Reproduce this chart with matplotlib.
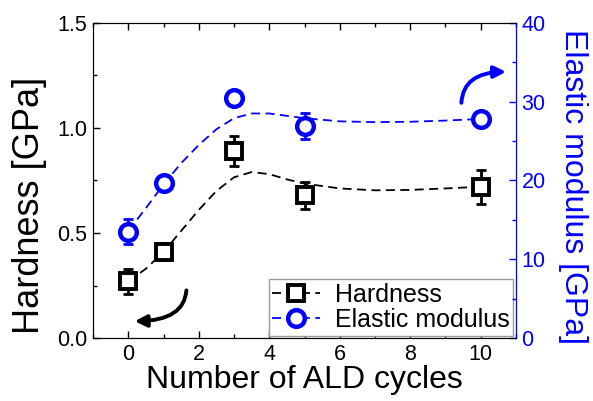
import numpy as np
import matplotlib
matplotlib.use('Agg')
import matplotlib.pyplot as plt
from matplotlib.ticker import MultipleLocator, FormatStrFormatter

plt.rcParams['font.family'] = ['Liberation Sans', 'DejaVu Sans']

# measured points
cycles = [0, 1, 3, 5, 10]
hardness = [0.27, 0.41, 0.89, 0.68, 0.72]
hardness_err = [0.06, 0.04, 0.07, 0.065, 0.08]
modulus = [13.5, 19.7, 30.5, 26.9, 27.8]
modulus_err = [1.6, 0.5, 0.5, 1.6, 0.5]

# dashed guide curves
curve_x = [0, 0.5, 1, 1.5, 2, 2.5, 3, 3.5, 4, 4.5, 5, 6, 7, 8, 9, 10]
hard_curve = [0.27, 0.33, 0.41, 0.51, 0.61, 0.70, 0.765, 0.79, 0.78, 0.755, 0.735,
              0.712, 0.703, 0.705, 0.712, 0.72]
mod_curve = [13.6, 16.5, 19.5, 22.2, 24.5, 26.5, 27.9, 28.5, 28.5, 28.2, 27.9,
             27.5, 27.4, 27.45, 27.6, 27.8]

fig = plt.figure(figsize=(5.93, 4.01), dpi=100)
ax = fig.add_axes([0.157, 0.157, 0.713, 0.786])
ax2 = ax.twinx()

ax.plot(curve_x, hard_curve, '--', color='black', lw=1.3, dashes=(5, 3))
ax.errorbar(cycles, hardness, yerr=hardness_err, fmt='none', ecolor='black',
            elinewidth=2, capsize=3.5, capthick=2)
ax.plot(cycles, hardness, 's', mfc='white', mec='black', ms=11.5, mew=2.8)

ax2.plot(curve_x, mod_curve, '--', color='blue', lw=1.3, dashes=(5, 3))
ax2.errorbar(cycles, modulus, yerr=modulus_err, fmt='none', ecolor='blue',
             elinewidth=2, capsize=3.5, capthick=2)
ax2.plot(cycles, modulus, 'o', mfc='white', mec='blue', ms=12, mew=3.2)

ax.set_xlim(-1, 11)
ax.set_ylim(0, 1.5)
ax2.set_ylim(0, 40)
ax.xaxis.set_major_locator(MultipleLocator(2))
ax.xaxis.set_minor_locator(MultipleLocator(1))
ax.yaxis.set_major_locator(MultipleLocator(0.5))
ax.yaxis.set_minor_locator(MultipleLocator(0.25))
ax2.yaxis.set_major_locator(MultipleLocator(10))
ax2.yaxis.set_minor_locator(MultipleLocator(5))
ax.yaxis.set_major_formatter(FormatStrFormatter('%.1f'))

ax.tick_params(which='both', direction='in', top=True, labelsize=15.5, width=1, pad=4)
ax.tick_params(which='major', length=5)
ax.tick_params(which='minor', length=3)
ax2.tick_params(which='both', direction='in', colors='blue', labelsize=15.5, width=1, pad=4)
ax2.tick_params(which='major', length=5)
ax2.tick_params(which='minor', length=3)
ax2.spines['right'].set_color('blue')
for s in ['left', 'top', 'bottom']:
    ax.spines[s].set_color('#333333')

ax.set_xlabel('Number of ALD cycles', fontsize=23, labelpad=0)
ax.set_ylabel('Hardness [GPa]', fontsize=26)
ax.yaxis.set_label_coords(-0.11, 0.42)
ax2.set_ylabel('Elastic modulus [GPa]', fontsize=23, color='blue', rotation=270,
               va='bottom')
ax2.yaxis.set_label_coords(1.099, 0.48)

# legend handles
h1, = ax.plot([], [], '--s', color='black', mfc='white', mec='black', ms=11.5, mew=2.8,
              lw=1.3, dashes=(5, 3))
h2, = ax.plot([], [], '--o', color='blue', mfc='white', mec='blue', ms=12, mew=3.2,
              lw=1.3, dashes=(5, 3))
leg = ax.legend([h1, h2], ['Hardness', 'Elastic modulus'], loc='lower right',
                fontsize=18, fancybox=False, edgecolor='#999999', framealpha=1,
                handlelength=1.9, handletextpad=0.6, borderpad=0.15,
                labelspacing=0.05, borderaxespad=0.1)
leg.get_frame().set_linewidth(1)

# curved arrows pointing to each axis
ax.annotate('', xy=(0.1, 0.08), xytext=(1.65, 0.24),
            arrowprops=dict(arrowstyle='-|>,head_length=0.7,head_width=0.35',
                            color='black', lw=2.8,
                            connectionstyle='angle3,angleA=90,angleB=0'))
ax2.annotate('', xy=(10.8, 33.8), xytext=(9.45, 29.5),
             arrowprops=dict(arrowstyle='-|>,head_length=0.7,head_width=0.35',
                             color='blue', lw=2.8,
                             connectionstyle='angle3,angleA=90,angleB=0'))

fig.savefig('out.png', dpi=100)
